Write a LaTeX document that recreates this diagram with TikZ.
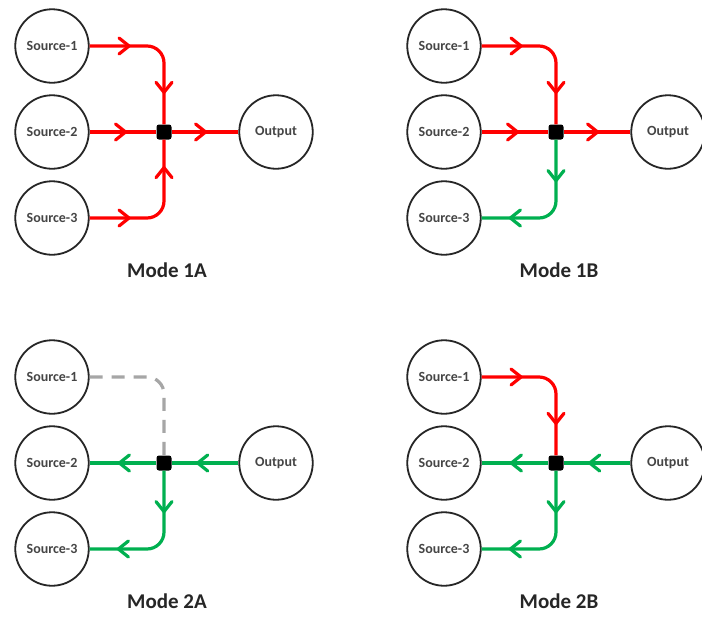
\documentclass[tikz,border=0pt]{standalone}
\usepackage{fontspec}
\setmainfont{Carlito}
\usetikzlibrary{arrows.meta,decorations.markings}
\definecolor{flowred}{HTML}{FF0000}
\definecolor{flowgreen}{HTML}{00B050}
\definecolor{idlegray}{HTML}{A6A6A6}
\definecolor{rim}{HTML}{262626}
\definecolor{portlabel}{HTML}{454545}

\tikzset{
  port/.style={circle, draw=rim, line width=1.8pt, minimum size=73.5pt, inner sep=0pt,
    font=\bfseries\fontsize{14}{16}\selectfont, text=portlabel},
  hub/.style={fill=black, minimum size=15pt, inner sep=0pt, rounded corners=2.5pt},
  caption/.style={font=\bfseries\fontsize{21}{24}\selectfont, text=black!85},
  flow/.style={line width=3.2pt, rounded corners=17pt},
  fwd/.style={flow, draw=flowred},
  rev/.style={flow, draw=flowgreen},
  idle/.style={flow, draw=idlegray, dash pattern=on 13pt off 9pt},
  tip at/.style={postaction={decorate, decoration={markings,
    mark=at position #1 with {\arrow{Straight Barb[length=10pt,width=16pt,round]}}}}},
}

% the five nodes and the caption of one mode panel
\newcommand\modenodes[2]{%
  \node[port] (#1s1) at (52,46) {Source-1};
  \node[port] (#1s2) at (52,132) {Source-2};
  \node[port] (#1s3) at (52,218) {Source-3};
  \node[port] (#1out) at (276,132) {Output};
  \node[hub] (#1j) at (164,132) {};
  \node[caption] (#1cap) at (167,270) {#2};
}

\begin{document}
\begin{tikzpicture}[x=1pt, y=-1pt]
  \fill[white] (0,0) rectangle (702,619);
  \useasboundingbox (0,0) rectangle (702,619);

  % Mode 1A: all sources feed the output
  \begin{scope}
    \modenodes{a}{Mode 1A}
    \draw[fwd, tip at=41pt, tip at=115pt] (as1.east) -| (aj.north);
    \draw[fwd, tip at=37.5pt] (as2.east) -- (aj.west);
    \draw[fwd, tip at=35.5pt] (aj.east) -- (aout.west);
    \draw[fwd, tip at=41pt, tip at=119pt] (as3.east) -| (aj.south);
  \end{scope}

  % Mode 1B: sources 1 and 2 feed the output and source 3
  \begin{scope}[shift={(392,0)}]
    \modenodes{b}{Mode 1B}
    \draw[fwd, tip at=41pt, tip at=115pt] (bs1.east) -| (bj.north);
    \draw[fwd, tip at=37.5pt] (bs2.east) -- (bj.west);
    \draw[fwd, tip at=35.5pt] (bj.east) -- (bout.west);
    \draw[rev, tip at=42.5pt, tip at=118.2pt] (bj.south) |- (bs3.east);
  \end{scope}

  % Mode 2A: the output feeds sources 2 and 3, source 1 idle
  \begin{scope}[shift={(0,331)}]
    \modenodes{c}{Mode 2A}
    \draw[idle] (cs1.east) -| (cj.north);
    \draw[rev, tip at=42.25pt] (cout.west) -- (cj.east);
    \draw[rev, tip at=38.5pt] (cj.west) -- (cs2.east);
    \draw[rev, tip at=42.5pt, tip at=118.2pt] (cj.south) |- (cs3.east);
  \end{scope}

  % Mode 2B: source 1 and the output feed sources 2 and 3
  \begin{scope}[shift={(392,331)}]
    \modenodes{d}{Mode 2B}
    \draw[fwd, tip at=41pt, tip at=115pt] (ds1.east) -| (dj.north);
    \draw[rev, tip at=42.25pt] (dout.west) -- (dj.east);
    \draw[rev, tip at=38.5pt] (dj.west) -- (ds2.east);
    \draw[rev, tip at=42.5pt, tip at=118.2pt] (dj.south) |- (ds3.east);
  \end{scope}
\end{tikzpicture}
\end{document}
